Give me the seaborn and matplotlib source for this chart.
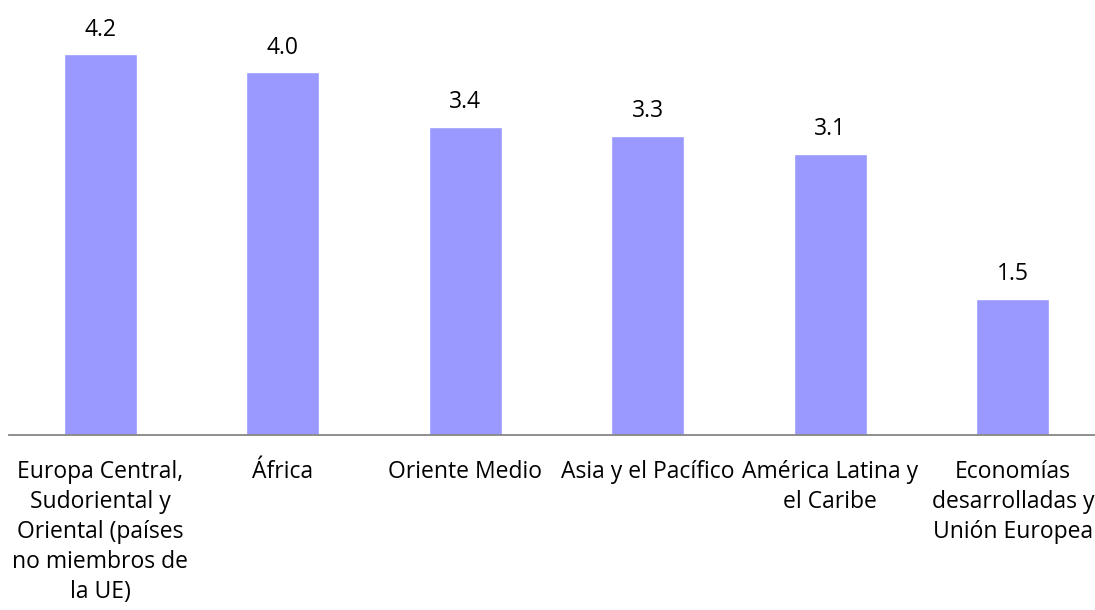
import matplotlib
matplotlib.use("Agg")
import matplotlib.pyplot as plt
import seaborn as sns
import pandas as pd

categories = [
    "Europa Central,\nSudoriental y\nOriental (países\nno miembros de\nla UE)",
    "África",
    "Oriente Medio",
    "Asia y el Pacífico",
    "América Latina y\nel Caribe",
    "Economías\ndesarrolladas y\nUnión Europea",
]
values = [4.2, 4.0, 3.4, 3.3, 3.1, 1.5]

sns.set_style("white")
plt.rcParams['font.family'] = ['Open Sans', 'DejaVu Sans']

df = pd.DataFrame({"region": categories, "value": values})

fig = plt.figure(figsize=(10.95, 6.1), dpi=100)
ax = fig.add_axes([9 / 1095, 1 - 435 / 610, 1 - 9 / 1095, 435 / 610])
sns.barplot(data=df, x="region", y="value", color="#9999FF", saturation=1,
            width=0.4, ax=ax)

ax.set_xlim(-0.5, 5.45)
ax.set_ylim(0, 435 / 90.7)
for s in ["top", "right", "left"]:
    ax.spines[s].set_visible(False)
ax.spines["bottom"].set_color("#868686")
ax.spines["bottom"].set_linewidth(1.3)
ax.set_yticks([])
ax.set_xlabel("")
ax.set_ylabel("")
ax.tick_params(axis="x", length=0, pad=18, labelsize=16.5)
for lbl in ax.get_xticklabels():
    lbl.set_linespacing(1.33)
    lbl.set_color("black")

for i, v in enumerate(values):
    ax.annotate(f"{v:.1f}", (i, v), xytext=(0, 9), textcoords="offset points",
                ha="center", va="bottom", fontsize=16.5, color="black")

fig.savefig("out.png", dpi=100)
